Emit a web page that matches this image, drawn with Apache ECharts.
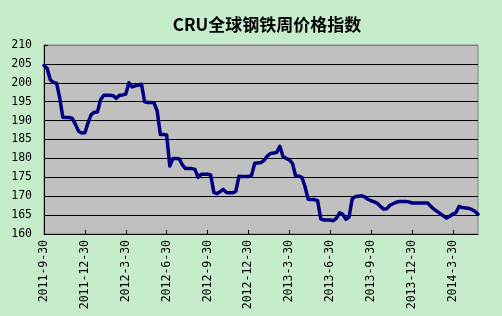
<!DOCTYPE html>
<html>
<head>
<meta charset="utf-8">
<script src="https://cdn.jsdelivr.net/npm/echarts@6/dist/echarts.min.js"></script>
<style>
html,body{margin:0;padding:0;background:#C7ECCC;}
#c{width:502px;height:316px;}
</style>
</head>
<body>
<div id="c"></div>
<script>
const titleText = 'CRU全球钢铁周价格指数';
const tickLabels = ['2011-9-30','2011-12-30','2012-3-30','2012-6-30','2012-9-30','2012-12-30','2013-3-30','2013-6-30','2013-9-30','2013-12-30','2014-3-30'];
const weeksPerTick = 13;
const values2011_2012a = [204.6,203.8,200.8,200.1,199.9,196.0,190.9,190.8,190.8,190.6,189.0,187.2,186.7,186.8,189.4,191.6,192.2,192.3,195.5,196.7,196.7,196.7,196.6,195.9,196.7,196.8,197.0,200.0,198.9,199.2,199.4,199.6,195.0,194.8,194.8,194.7,192.5,186.3,186.3,186.2,178.0,180.0,180.0,179.9,178.3,177.3];
const values2012b_2013a = [177.3,177.3,177.1,175.0,175.8,175.8,175.8,175.6,171.0,170.7,171.2,171.8,171.0,170.9,170.9,171.3,175.3,175.2,175.2,175.2,175.5,178.7,178.8,178.9,179.5,180.6,181.3,181.4,181.6,183.2,180.5,180.0,179.6,178.7,175.4,175.3,175.0,172.5,169.2,169.1,169.1,168.8,164.0,163.7,163.7,163.7];
const values2013b_2014 = [163.5,164.2,165.6,165.2,163.9,164.5,169.3,169.9,170.0,170.1,169.8,169.2,168.8,168.5,168.1,167.3,166.6,166.7,167.6,168.0,168.4,168.6,168.6,168.6,168.5,168.2,168.2,168.2,168.2,168.2,168.2,167.3,166.6,166.0,165.4,164.8,164.2,164.7,165.3,165.7,167.3,167.0,166.9,166.8,166.5,166.0,165.2];
const values = values2011_2012a.concat(values2012b_2013a, values2013b_2014);
const categories = values.map((_, i) => i);

const gridColors = ['#000','#000','#000','#000','#000','#000','#000','#000','#000','#000','#808080'];

const chart = echarts.init(document.getElementById('c'));
chart.setOption({
  backgroundColor: '#C7ECCC',
  animation: false,
  title: {
    text: titleText,
    left: 262,
    textAlign: 'center',
    top: 11,
    textStyle: {fontFamily: 'Noto Sans CJK SC', fontSize: 17, fontWeight: 'bold', color: '#000'}
  },
  grid: {left: 44, right: 24, top: 45, bottom: 82, show: true, backgroundColor: '#C0C0C0', borderColor: '#808080', borderWidth: 1},
  xAxis: {
    type: 'category',
    data: categories,
    boundaryGap: false,
    axisLine: {show: true, lineStyle: {color: '#000', width: 1}},
    axisTick: {show: true, inside: true, length: 4, interval: weeksPerTick - 1, lineStyle: {color: '#000'}},
    axisLabel: {
      interval: weeksPerTick - 1, rotate: 90, margin: 6,
      fontFamily: 'DejaVu Sans Mono', fontSize: 11.5, color: '#000',
      formatter: (v, idx) => tickLabels[Math.round(idx / weeksPerTick)] || ''
    },
    splitLine: {show: false}
  },
  yAxis: {
    type: 'value', min: 160, max: 210, interval: 5,
    axisLine: {show: true, lineStyle: {color: '#000', width: 1}},
    axisTick: {show: true, inside: true, length: 4, lineStyle: {color: '#000'}},
    axisLabel: {margin: 12, fontFamily: 'DejaVu Sans Mono', fontSize: 11.5, color: '#000'},
    splitLine: {show: true, lineStyle: {color: gridColors, width: 1}}
  },
  series: [{
    type: 'line',
    data: values,
    symbol: 'none',
    lineStyle: {color: '#000080', width: 3.5, cap: 'round', join: 'round'}
  }]
});
</script>
</body>
</html>
